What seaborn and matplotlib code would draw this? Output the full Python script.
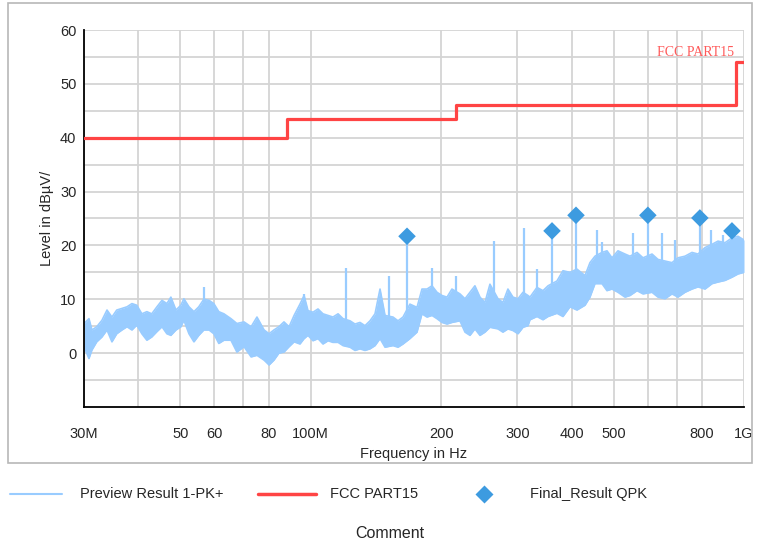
import numpy as np
import pandas as pd
import matplotlib
matplotlib.use("Agg")
import matplotlib.pyplot as plt
import seaborn as sns
from matplotlib.lines import Line2D
from matplotlib.patches import Rectangle

# 频谱包络（MHz，上/下沿电平，dBµV）
freq_env = [30.0, 30.8, 31.3, 32.1, 33.0, 33.9, 34.8, 35.7, 36.7, 37.7, 38.7, 39.7,
            40.8, 41.9, 43.0, 44.2, 45.4, 46.6, 47.6, 48.9, 50.2, 51.0, 52.4, 53.8,
            55.2, 56.7, 58.3, 59.8, 61.4, 63.1, 65.5, 67.6, 70.2, 72.9, 75.2, 78.1,
            80.2, 82.3, 84.5, 86.8, 89.2, 91.6, 94.5, 96.6, 98.6, 101.3, 104.0, 106.8,
            109.7, 112.6, 115.7, 118.8, 123.3, 126.6, 130.0, 133.5, 137.1, 140.8, 144.6,
            148.5, 154.9, 159.1, 163.4, 169.5, 176.0, 180.7, 185.6, 190.6, 195.7, 201.0,
            206.4, 211.9, 221.1, 227.1, 233.2, 239.4, 245.9, 252.5, 259.3, 270.6, 277.8,
            285.3, 293.0, 301.0, 309.1, 317.4, 320.8, 332.9, 343.7, 353.0, 370.2, 382.2,
            396.7, 411.7, 429.7, 441.2, 453.1, 470.3, 482.9, 495.9, 512.0, 531.4, 545.7,
            566.4, 584.8, 613.4, 633.2, 657.2, 682.1, 704.2, 730.9, 758.6, 783.2, 812.8,
            843.7, 871.0, 903.9, 938.2, 968.6, 1000]
level_hi = [5.5, 6.4, 4.3, 4.9, 6.1, 8.0, 6.7, 8.0, 8.3, 8.6, 9.2, 8.9,
            7.3, 7.7, 7.3, 8.6, 9.8, 9.2, 10.4, 8.0, 8.9, 10.1, 8.6, 7.7,
            8.6, 10.0, 9.8, 9.2, 7.7, 7.3, 6.4, 5.5, 5.8, 4.9, 6.7, 4.3,
            3.6, 4.3, 4.9, 5.8, 4.9, 7.0, 9.1, 10.7, 7.9, 7.6, 8.2, 7.3,
            7.0, 6.7, 7.3, 6.4, 6.0, 5.4, 5.7, 5.1, 6.0, 7.3, 11.9,
            7.0, 6.7, 6.0, 6.7, 9.1, 8.5, 11.9, 11.9, 12.5, 11.3, 10.7,
            10.4, 11.9, 11.0, 10.1, 11.3, 12.5, 10.4, 9.4, 12.8, 10.1, 9.4,
            11.9, 10.4, 10.1, 11.3, 10.7, 10.4, 12.2, 11.6, 12.5, 13.4, 15.3,
            15.0, 15.6, 14.4, 16.8, 18.0, 18.7, 19.0, 17.7, 19.0, 18.4, 18.0,
            18.7, 17.7, 18.4, 17.4, 17.1, 16.8, 17.7, 18.0, 18.7, 18.4, 19.6,
            20.2, 20.8, 20.5, 21.4, 21.7, 21.0]
level_lo = [1.2, -1.0, 0.6, 2.1, 3.0, 4.3, 2.1, 3.6, 4.3, 4.9, 4.3, 5.2,
            3.6, 2.4, 3.0, 4.0, 4.9, 3.6, 3.3, 4.3, 4.9, 6.1, 3.6, 2.1,
            3.3, 4.3, 4.3, 3.6, 1.8, 2.4, 2.4, 0.2, 1.2, -0.7, -0.4, -1.3,
            -2.2, -1.3, 0.0, 0.2, 1.2, 2.1, 1.7, 2.7, 3.3, 2.3, 2.7, 1.7,
            2.3, 2.0, 2.0, 1.4, 1.1, 0.5, 0.8, 0.5, 0.8, 1.4, 2.7,
            1.1, 1.4, 1.1, 1.7, 2.7, 3.9, 7.3, 6.7, 7.0, 6.4, 5.7,
            5.4, 5.7, 6.0, 3.9, 3.3, 4.5, 3.3, 3.9, 4.8, 4.5, 3.9,
            4.5, 4.2, 3.6, 4.8, 5.1, 6.2, 6.8, 6.2, 6.8, 7.4, 6.8,
            8.6, 8.0, 8.9, 10.4, 12.9, 12.9, 11.6, 11.9, 11.3, 10.4, 10.7,
            11.6, 11.0, 11.3, 10.4, 10.1, 11.0, 10.4, 11.3, 11.9, 12.3, 11.9,
            12.9, 13.2, 13.5, 14.1, 14.7, 15.0]

# 单点尖峰
spike_freq = [56.7, 96.6, 120.7, 151.6, 166.9, 190.6, 216.5, 264.9, 311, 333, 360.6,
              409.6, 458, 470, 554, 600, 647, 692, 791, 839, 894, 938]
spike_level = [12.3, 11.0, 15.9, 14.3, 21.7, 15.9, 14.4, 20.8, 23.2, 15.6, 22.7,
               25.6, 22.8, 20.7, 22.3, 25.6, 22.3, 21.0, 25.1, 22.8, 21.9, 22.7]

# FCC 限值
limit_freq = [30, 88, 216, 960, 1000]
limit_level = [40, 43.5, 46, 54, 54]

# QPK 终测点
qpk_freq = [166.9, 360.6, 409.6, 600, 791, 938]
qpk_level = [21.7, 22.7, 25.6, 25.6, 25.1, 22.7]

x_ticks = [30, 40, 50, 60, 70, 80, 100, 200, 300, 400, 500, 600, 700, 800, 1000]
x_labels = ['30M', '', '50', '60', '', '80', '100M', '200', '300', '400', '500',
            '', '', '800', '1G']

trace_color = '#99ccff'
limit_color = '#ff4444'
qpk_color = '#3d9be0'

sns.set_style("white")
plt.rcParams['font.family'] = ['Liberation Sans', 'DejaVu Sans']

fig = plt.figure(figsize=(7.6, 5.46), dpi=100)
ax = fig.add_axes([84 / 760, 1 - 407 / 546, 660 / 760, 377 / 546])

env = pd.DataFrame({'freq': freq_env, 'hi': level_hi, 'lo': level_lo})
ax.fill_between(env['freq'], env['lo'], env['hi'], color=trace_color, lw=0, zorder=2)
sns.lineplot(data=env, x='freq', y='hi', ax=ax, color=trace_color, lw=1.2, zorder=2)
sns.lineplot(data=env, x='freq', y='lo', ax=ax, color=trace_color, lw=1.2, zorder=2)
base = np.interp(spike_freq, freq_env, level_lo)
ax.vlines(spike_freq, base, spike_level, color=trace_color, lw=1.6, zorder=2)

lim = pd.DataFrame({'freq': limit_freq, 'level': limit_level})
sns.lineplot(data=lim, x='freq', y='level', ax=ax, color=limit_color, lw=2.3,
             drawstyle='steps-post', zorder=3)
ax.text(950, 54.6, 'FCC PART15', color='#ff5a5a', fontsize=10,
        family='Liberation Serif', ha='right', va='bottom')

qpk = pd.DataFrame({'freq': qpk_freq, 'level': qpk_level})
sns.scatterplot(data=qpk, x='freq', y='level', ax=ax, marker='D', s=80,
                color=qpk_color, edgecolor='none', zorder=4)

ax.set_xscale('log')
ax.set_xlim(30, 1000)
ax.set_ylim(-10, 60)
ax.set_xticks(x_ticks)
ax.set_xticklabels(x_labels)
ax.xaxis.set_minor_locator(matplotlib.ticker.NullLocator())
ax.set_yticks(np.arange(0, 61, 10))
ax.set_yticks(np.arange(-5, 60, 10), minor=True)
ax.grid(True, which='both', color='#d4d4d4', lw=1.3, zorder=0)
ax.set_axisbelow(True)
ax.tick_params(axis='both', which='both', direction='inout', length=9, width=1.2,
               color='black', labelsize=10.5, pad=1)
ax.tick_params(axis='x', pad=10)
for s in ['top', 'right']:
    ax.spines[s].set_visible(False)
for s in ['left', 'bottom']:
    ax.spines[s].set_color('black')
    ax.spines[s].set_linewidth(1.3)
ax.set_xlabel('Frequency in Hz', fontsize=10.5, labelpad=4)
ax.set_ylabel('Level in dBµV/', fontsize=10.5, labelpad=4)

# 外框
fig.add_artist(Rectangle((8 / 760, 1 - 463 / 546), 744 / 760, 460 / 546,
                         transform=fig.transFigure, fill=False,
                         edgecolor='#b8b8b8', lw=1.2))

# 图例（手动摆放）
leg_y = 1 - 494 / 546
fig.add_artist(Line2D([10 / 760, 62 / 760], [leg_y, leg_y], color=trace_color, lw=1.5,
                      transform=fig.transFigure))
fig.text(80 / 760, leg_y, 'Preview Result 1-PK+', va='center', fontsize=10.5)
fig.add_artist(Line2D([258 / 760, 316 / 760], [leg_y, leg_y], color=limit_color, lw=2.5,
                      transform=fig.transFigure))
fig.text(330 / 760, leg_y, 'FCC PART15', va='center', fontsize=10.5)
fig.add_artist(Line2D([484 / 760], [leg_y], color=qpk_color, marker='D', ls='none',
                      markersize=9, markeredgecolor='none', transform=fig.transFigure))
fig.text(530 / 760, leg_y, 'Final_Result QPK', va='center', fontsize=10.5)
fig.text(390 / 760, 1 - 533 / 546, 'Comment', ha='center', va='center', fontsize=11.5)

fig.savefig('out.png', dpi=100)
